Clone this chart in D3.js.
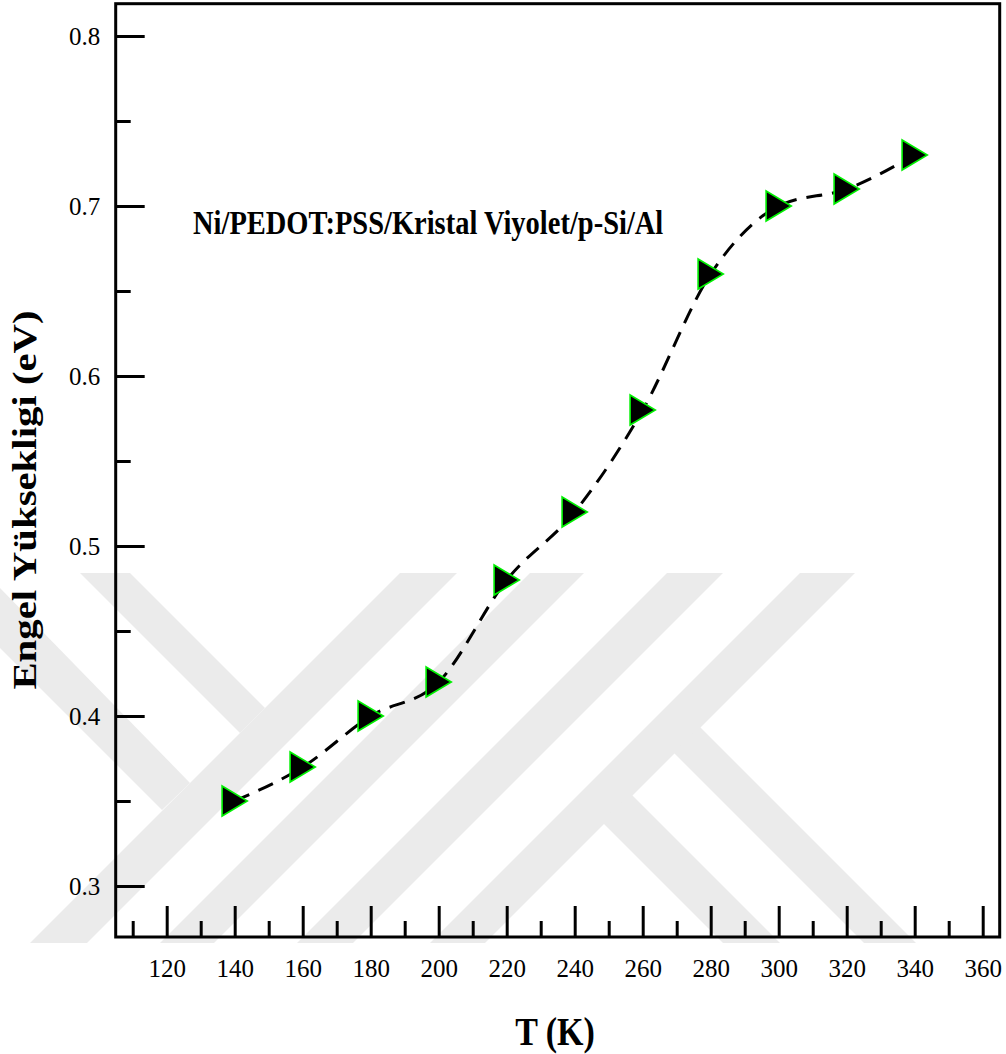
<!DOCTYPE html>
<html>
<head>
<meta charset="utf-8">
<script src="https://cdn.jsdelivr.net/npm/d3@7"></script>
<style>
  html, body { margin: 0; padding: 0; background: #fff; }
  svg { display: block; }
  text { font-family: "Liberation Serif", "Times New Roman", Times, serif; fill: #000; }
</style>
</head>
<body>
<svg id="chart" width="1006" height="1054"></svg>
<script>
// Barrier height versus temperature
const temperatures = [140, 160, 180, 200, 220, 240, 260, 280, 300, 320, 340];
const barrierHeights = [0.35, 0.37, 0.40, 0.42, 0.48, 0.52, 0.58, 0.66, 0.70, 0.71, 0.73];

const xMajorTicks = [120, 140, 160, 180, 200, 220, 240, 260, 280, 300, 320, 340, 360];
const xMinorTicks = [110, 130, 150, 170, 190, 210, 230, 250, 270, 290, 310, 330, 350];
const yMajorTicks = [0.3, 0.4, 0.5, 0.6, 0.7, 0.8];
const yMinorTicks = [0.35, 0.45, 0.55, 0.65, 0.75];

const xTitle = "T (K)";
const yTitle = "Engel Yükseklig\u0303i (eV)".replace("\u0303", "");
const sampleLabel = "Ni/PEDOT:PSS/Kristal Viyolet/p-Si/Al";

const svg = d3.select("#chart");

const x = d3.scaleLinear().domain([105, 365]).range([115.7, 999.7]);
const y = d3.scaleLinear().domain([0.27, 0.819]).range([937, 3.7]);

// Faint background emblem (diagonal bands)
const emblem = [
  [[0, 588], [0, 648], [162, 810], [190, 783]],
  [[80, 573], [130, 573], [265, 708], [240, 733]],
  [[400, 573], [457, 573], [87, 943], [30, 943]],
  [[530, 573], [584, 573], [214, 943], [160, 943]],
  [[667, 573], [723, 573], [353, 943], [297, 943]],
  [[800, 573], [855, 573], [485, 943], [430, 943]],
  [[700, 727], [916, 943], [864, 943], [673, 752]],
  [[630, 793], [780, 943], [723, 943], [602, 822]]
];
svg.append("g").attr("class", "emblem")
  .selectAll("polygon").data(emblem).join("polygon")
  .attr("points", d => d.map(p => p.join(",")).join(" "))
  .attr("fill", "#ebebeb");

// Axes with inward ticks
const yAxisMajor = d3.axisLeft(y).tickValues(yMajorTicks).tickSize(-29).tickPadding(15.5)
  .tickFormat(d3.format(".1f"));
const yAxisMinor = d3.axisLeft(y).tickValues(yMinorTicks).tickSize(-15).tickFormat("");
const xAxisMajor = d3.axisBottom(x).tickValues(xMajorTicks).tickSize(-31).tickPadding(22)
  .tickFormat(d3.format("d"));
const xAxisMinor = d3.axisBottom(x).tickValues(xMinorTicks).tickSize(-16).tickFormat("");

function styleAxis(g) {
  g.select(".domain").remove();
  g.selectAll(".tick line").attr("stroke", "#000").attr("stroke-width", 3);
  g.selectAll(".tick text")
    .style("font-family", "'Liberation Serif', 'Times New Roman', serif")
    .attr("font-size", 25).attr("fill", "#000");
}

svg.append("g").attr("transform", `translate(${x(105)},0)`).call(yAxisMinor).call(styleAxis);
svg.append("g").attr("transform", `translate(${x(105)},0)`).call(yAxisMajor).call(styleAxis);
svg.append("g").attr("transform", `translate(0,${y(0.27)})`).call(xAxisMinor).call(styleAxis);
svg.append("g").attr("transform", `translate(0,${y(0.27)})`).call(xAxisMajor).call(styleAxis);

// Frame
svg.append("rect")
  .attr("x", x(105)).attr("y", y(0.819))
  .attr("width", x(365) - x(105)).attr("height", y(0.27) - y(0.819))
  .attr("fill", "none").attr("stroke", "#000").attr("stroke-width", 3);

// Dashed connecting curve
const pts = temperatures.map((t, i) => [t, barrierHeights[i]]);
const line = d3.line().x(d => x(d[0])).y(d => y(d[1])).curve(d3.curveMonotoneX);
svg.append("path")
  .datum(pts)
  .attr("d", line)
  .attr("fill", "none")
  .attr("stroke", "#000")
  .attr("stroke-width", 3)
  .attr("stroke-dasharray", "16,10");

// Right-pointing triangle markers, centred on their bounding box
const triangleRight = {
  draw(ctx, size) {
    const h = Math.sqrt(size);     // full height
    const w = h * 0.84;            // full width
    ctx.moveTo(-w / 2, -h / 2);
    ctx.lineTo(w / 2, 0);
    ctx.lineTo(-w / 2, h / 2);
    ctx.closePath();
  }
};
svg.append("g").selectAll("path").data(pts).join("path")
  .attr("transform", d => `translate(${x(d[0])},${y(d[1])})`)
  .attr("d", d3.symbol(triangleRight, 30 * 30))
  .attr("fill", "#000")
  .attr("stroke", "#00f000")
  .attr("stroke-width", 1.6);

// Titles and sample label
svg.append("text")
  .attr("transform", "translate(555,1045) scale(1,1.2)")
  .attr("text-anchor", "middle")
  .attr("font-size", 34).attr("font-weight", "bold")
  .text(xTitle);

svg.append("text")
  .attr("transform", "translate(36,500) rotate(-90) scale(1.2,1)")
  .attr("text-anchor", "middle")
  .attr("font-size", 34).attr("font-weight", "bold")
  .text(yTitle);

svg.append("text")
  .attr("transform", "translate(193,234) scale(1,1.17)")
  .attr("font-size", 28.5).attr("font-weight", "bold")
  .text(sampleLabel);
</script>
</body>
</html>
